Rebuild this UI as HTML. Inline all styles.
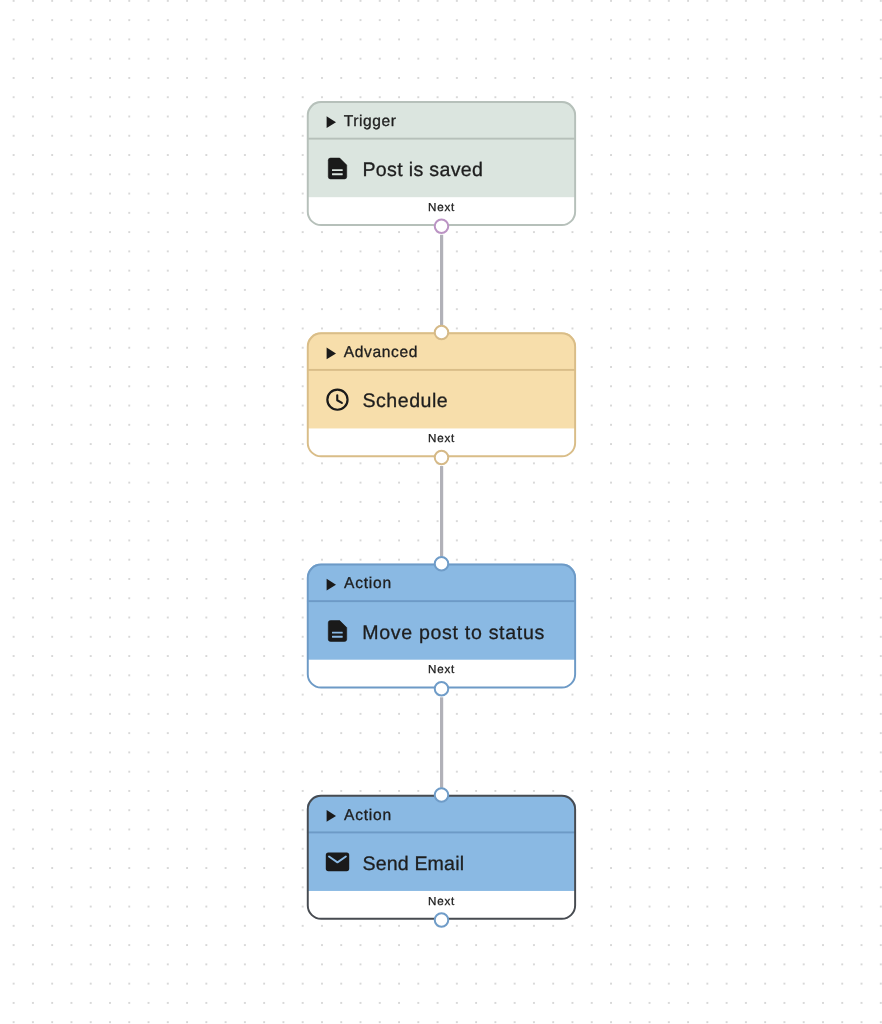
<!DOCTYPE html>
<html>
<head>
<meta charset="utf-8">
<style>
html,body{margin:0;padding:0;background:#fff;}
body{width:882px;height:1024px;overflow:hidden;position:relative;font-family:"Liberation Sans",sans-serif;}
svg{position:absolute;left:0;top:0;will-change:transform;}
text{font-family:"Liberation Sans",sans-serif;fill:#1e1e1e;stroke:#1e1e1e;stroke-width:0.3px;text-rendering:geometricPrecision;}
</style>
</head>
<body>
<svg width="882" height="1024" viewBox="0 0 882 1024">
<defs>
<pattern id="dots" patternUnits="userSpaceOnUse" x="12.65" y="-0.1" width="19.27" height="19.27">
<circle cx="1" cy="1" r="1.0" fill="#cdcdcd"/>
</pattern>
</defs>
<rect width="882" height="1024" fill="url(#dots)"/>

<g stroke="#b1b1b8" stroke-width="3.2">
<line x1="441.6" y1="234.80" x2="441.6" y2="325.35"/>
<line x1="441.6" y1="466.05" x2="441.6" y2="556.60"/>
<line x1="441.6" y1="697.30" x2="441.6" y2="787.85"/>
</g>
<clipPath id="clip0"><rect x="306.8" y="101.10" width="269.3" height="124.9" rx="14.3"/></clipPath>
<g clip-path="url(#clip0)">
<rect x="306.8" y="101.10" width="269.3" height="124.9" fill="#fff"/>
<rect x="306.8" y="101.10" width="269.3" height="96.1" fill="#dbe5df"/>
<rect x="306.8" y="137.70" width="269.3" height="1.9" fill="#b6c0ba"/>
</g>
<rect x="307.775" y="102.075" width="267.350" height="122.950" rx="13.33" fill="none" stroke="#b6c0ba" stroke-width="1.95"/>
<polygon points="326.6,116.30 336.0,122.15 326.6,128.00" fill="#1a1a1a"/>
<text x="343.65" y="125.90" font-size="15.6" letter-spacing="0.565">Trigger</text>
<path d="M330.50,158.10 L339.70,158.10 L346.70,165.10 L346.70,176.70 Q346.70,178.90 344.50,178.90 L330.50,178.90 Q328.30,178.90 328.30,176.70 L328.30,160.30 Q328.30,158.10 330.50,158.10 Z" fill="#1a1a1a" stroke="#1a1a1a" stroke-width="0.6" stroke-linejoin="round"/>
<rect x="332.0" y="169.20" width="10.7" height="1.85" rx="0.3" fill="#dbe5df"/><rect x="332.0" y="173.30" width="10.7" height="1.85" rx="0.3" fill="#dbe5df"/>
<text x="362.40" y="176.10" font-size="19.6" letter-spacing="0.336">Post is saved</text>
<text x="441.52" y="210.90" font-size="11.6" letter-spacing="0.75" text-anchor="middle">Next</text>
<circle cx="441.5" cy="226.30" r="6.75" fill="#fff" stroke="#bb93c4" stroke-width="2"/>
<clipPath id="clip1"><rect x="306.8" y="332.35" width="269.3" height="124.9" rx="14.3"/></clipPath>
<g clip-path="url(#clip1)">
<rect x="306.8" y="332.35" width="269.3" height="124.9" fill="#fff"/>
<rect x="306.8" y="332.35" width="269.3" height="96.1" fill="#f7deab"/>
<rect x="306.8" y="368.95" width="269.3" height="1.9" fill="#d9bd88"/>
</g>
<rect x="307.775" y="333.325" width="267.350" height="122.950" rx="13.33" fill="none" stroke="#d9bd88" stroke-width="1.95"/>
<polygon points="326.6,347.55 336.0,353.40 326.6,359.25" fill="#1a1a1a"/>
<text x="343.84" y="357.15" font-size="15.6" letter-spacing="0.596">Advanced</text>
<circle cx="337.45" cy="399.65" r="10.1" fill="none" stroke="#1a1a1a" stroke-width="2.2"/><polyline points="337.25,395.25 337.25,400.25 341.85,402.95" fill="none" stroke="#1a1a1a" stroke-width="2.1" stroke-linecap="round" stroke-linejoin="round"/>

<text x="362.44" y="407.35" font-size="19.6" letter-spacing="0.508">Schedule</text>
<text x="441.52" y="442.15" font-size="11.6" letter-spacing="0.75" text-anchor="middle">Next</text>
<circle cx="441.5" cy="332.55" r="6.75" fill="#fff" stroke="#d5b987" stroke-width="2"/>
<circle cx="441.5" cy="457.55" r="6.75" fill="#fff" stroke="#d5b987" stroke-width="2"/>
<clipPath id="clip2"><rect x="306.8" y="563.60" width="269.3" height="124.9" rx="14.3"/></clipPath>
<g clip-path="url(#clip2)">
<rect x="306.8" y="563.60" width="269.3" height="124.9" fill="#fff"/>
<rect x="306.8" y="563.60" width="269.3" height="96.1" fill="#8ab9e3"/>
<rect x="306.8" y="600.20" width="269.3" height="1.9" fill="#6d9ac6"/>
</g>
<rect x="307.775" y="564.575" width="267.350" height="122.950" rx="13.33" fill="none" stroke="#6d9ac6" stroke-width="1.95"/>
<polygon points="326.6,578.80 336.0,584.65 326.6,590.50" fill="#1a1a1a"/>
<text x="343.99" y="588.40" font-size="15.6" letter-spacing="0.764">Action</text>
<path d="M330.50,620.60 L339.70,620.60 L346.70,627.60 L346.70,639.20 Q346.70,641.40 344.50,641.40 L330.50,641.40 Q328.30,641.40 328.30,639.20 L328.30,622.80 Q328.30,620.60 330.50,620.60 Z" fill="#1a1a1a" stroke="#1a1a1a" stroke-width="0.6" stroke-linejoin="round"/>
<rect x="332.0" y="631.70" width="10.7" height="1.85" rx="0.3" fill="#8ab9e3"/><rect x="332.0" y="635.80" width="10.7" height="1.85" rx="0.3" fill="#8ab9e3"/>
<text x="362.14" y="638.60" font-size="19.6" letter-spacing="0.684">Move post to status</text>
<text x="441.52" y="673.40" font-size="11.6" letter-spacing="0.75" text-anchor="middle">Next</text>
<circle cx="441.5" cy="563.80" r="6.75" fill="#fff" stroke="#6f9cc8" stroke-width="2"/>
<circle cx="441.5" cy="688.80" r="6.75" fill="#fff" stroke="#6f9cc8" stroke-width="2"/>
<clipPath id="clip3"><rect x="306.8" y="794.85" width="269.3" height="124.9" rx="14.3"/></clipPath>
<g clip-path="url(#clip3)">
<rect x="306.8" y="794.85" width="269.3" height="124.9" fill="#fff"/>
<rect x="306.8" y="794.85" width="269.3" height="96.1" fill="#8ab9e3"/>
<rect x="306.8" y="831.45" width="269.3" height="1.9" fill="#6d9ac6"/>
</g>
<rect x="307.775" y="795.825" width="267.350" height="122.950" rx="13.33" fill="none" stroke="#474b51" stroke-width="1.95"/>
<polygon points="326.6,810.05 336.0,815.90 326.6,821.75" fill="#1a1a1a"/>
<text x="343.99" y="819.65" font-size="15.6" letter-spacing="0.764">Action</text>
<rect x="325.8" y="852.50" width="23.40" height="18.70" rx="2.6" fill="#1a1a1a"/>
<polyline points="329.0,856.45 337.45,862.35 345.9,856.45" fill="none" stroke="#8ab9e3" stroke-width="1.9" stroke-linecap="round" stroke-linejoin="round"/>
<text x="362.41" y="869.85" font-size="19.6" letter-spacing="0.157">Send Email</text>
<text x="441.52" y="904.65" font-size="11.6" letter-spacing="0.75" text-anchor="middle">Next</text>
<circle cx="441.5" cy="795.05" r="6.75" fill="#fff" stroke="#6f9cc8" stroke-width="2"/>
<circle cx="441.5" cy="920.05" r="6.75" fill="#fff" stroke="#6f9cc8" stroke-width="2"/>
</svg>
</body>
</html>
